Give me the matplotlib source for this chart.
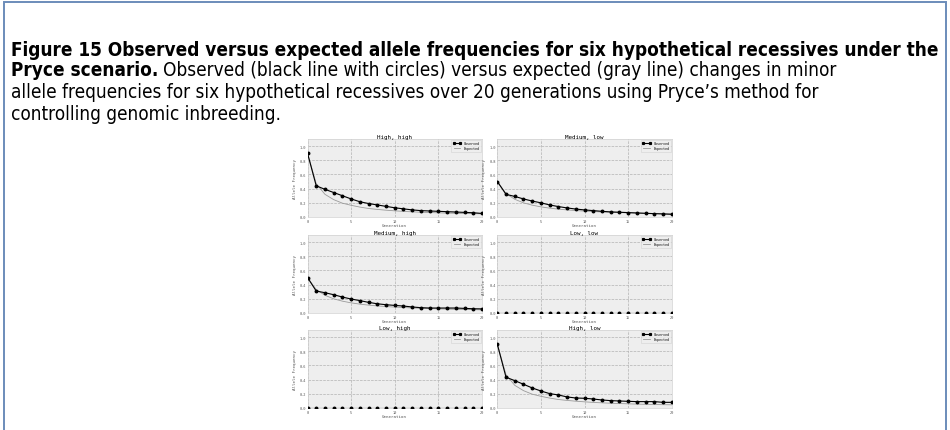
import matplotlib
matplotlib.use('Agg')
import matplotlib.pyplot as plt
from matplotlib import font_manager
from matplotlib.patches import Rectangle
from matplotlib.lines import Line2D

W, H = 950, 431

generations = list(range(21))
panel_titles = ["High, high", "Medium, low", "Medium, high", "Low, low", "Low, high", "High, low"]
x_ticks = [0, 5, 10, 15, 20]
y_ticks = [0.0, 0.2, 0.4, 0.6, 0.8, 1.0]

obs_high_high = [0.90, 0.44, 0.39, 0.345, 0.30, 0.255, 0.215, 0.19, 0.17, 0.15, 0.13,
                 0.115, 0.10, 0.09, 0.085, 0.08, 0.075, 0.07, 0.065, 0.06, 0.05]
exp_high_high = [0.90, 0.47, 0.32, 0.245, 0.195, 0.165, 0.14, 0.12, 0.107, 0.096, 0.087,
                 0.079, 0.073, 0.067, 0.063, 0.059, 0.055, 0.052, 0.049, 0.047, 0.045]
obs_medium_low = [0.50, 0.32, 0.29, 0.255, 0.225, 0.20, 0.17, 0.147, 0.128, 0.112, 0.10,
                  0.09, 0.08, 0.072, 0.067, 0.062, 0.057, 0.052, 0.047, 0.043, 0.038]
exp_medium_low = [0.50, 0.33, 0.25, 0.20, 0.167, 0.143, 0.125, 0.111, 0.10, 0.091, 0.083,
                  0.077, 0.071, 0.067, 0.062, 0.059, 0.055, 0.052, 0.05, 0.047, 0.045]
obs_medium_high = [0.50, 0.31, 0.286, 0.258, 0.225, 0.197, 0.175, 0.15, 0.13, 0.117, 0.107,
                   0.098, 0.085, 0.075, 0.07, 0.07, 0.07, 0.07, 0.065, 0.06, 0.058]
exp_medium_high = [0.50, 0.33, 0.25, 0.20, 0.167, 0.143, 0.125, 0.111, 0.10, 0.091, 0.083,
                   0.077, 0.071, 0.067, 0.062, 0.059, 0.055, 0.052, 0.05, 0.047, 0.045]
obs_low_low = [0.005, 0.005, 0.005, 0.005, 0.005, 0.005, 0.005, 0.005, 0.005, 0.005, 0.005,
               0.005, 0.005, 0.005, 0.005, 0.005, 0.005, 0.005, 0.005, 0.005, 0.005]
exp_low_low = [0.005, 0.005, 0.005, 0.005, 0.005, 0.005, 0.005, 0.005, 0.005, 0.005, 0.005,
               0.005, 0.005, 0.005, 0.005, 0.005, 0.005, 0.005, 0.005, 0.005, 0.005]
obs_low_high = [0.005, 0.005, 0.005, 0.005, 0.005, 0.005, 0.005, 0.005, 0.005, 0.005, 0.005,
                0.005, 0.005, 0.005, 0.005, 0.005, 0.005, 0.005, 0.005, 0.005, 0.005]
exp_low_high = [0.005, 0.005, 0.005, 0.005, 0.005, 0.005, 0.005, 0.005, 0.005, 0.005, 0.005,
                0.005, 0.005, 0.005, 0.005, 0.005, 0.005, 0.005, 0.005, 0.005, 0.005]
obs_high_low = [0.90, 0.434, 0.386, 0.335, 0.283, 0.24, 0.203, 0.184, 0.156, 0.141, 0.137,
                0.127, 0.113, 0.104, 0.099, 0.094, 0.09, 0.09, 0.09, 0.08, 0.08]
exp_high_low = [0.90, 0.47, 0.32, 0.245, 0.195, 0.165, 0.14, 0.12, 0.107, 0.096, 0.087,
                0.079, 0.073, 0.067, 0.063, 0.059, 0.055, 0.052, 0.049, 0.047, 0.045]

observed = [obs_high_high, obs_medium_low, obs_medium_high, obs_low_low, obs_low_high, obs_high_low]
expected = [exp_high_high, exp_medium_low, exp_medium_high, exp_low_low, exp_low_high, exp_high_low]

caption_line1 = "Figure 15 Observed versus expected allele frequencies for six hypothetical recessives under the"
caption_bold2 = "Pryce scenario."
caption_reg2 = "Observed (black line with circles) versus expected (gray line) changes in minor"
caption_line3 = "allele frequencies for six hypothetical recessives over 20 generations using Pryce\u2019s method for"
caption_line4 = "controlling genomic inbreeding."

names = {f.name for f in font_manager.fontManager.ttflist}
if 'Liberation Sans Narrow' in names:
    cap_family = 'Liberation Sans Narrow'
    cap_stretch = 'normal'
else:
    cap_family = 'DejaVu Sans'
    cap_stretch = 'condensed'

fig = plt.figure(figsize=(W / 100, H / 100), dpi=100)


def fx(x):
    return x / W


def fy(y):
    return 1 - y / H


# frame
fig.patches.append(Rectangle((fx(4), fy(440)), fx(946) - fx(4), fy(3) - fy(440),
                             transform=fig.transFigure, fill=False,
                             edgecolor='#6b8cba', linewidth=1.4))

# caption
renderer = fig.canvas.get_renderer()
x_left = 11
target_w = 934
base = 14
line_y = [50, 71, 93, 115]
t1 = fig.text(fx(x_left), fy(line_y[0]), caption_line1, fontsize=base, fontweight='bold',
              family=cap_family, stretch=cap_stretch, va='center', ha='left')
w = t1.get_window_extent(renderer).width
fs = base * target_w / w
t1.set_fontsize(fs)

tb = fig.text(fx(x_left), fy(line_y[1]), caption_bold2, fontsize=fs, fontweight='bold',
              family=cap_family, stretch=cap_stretch, va='center', ha='left')
wb = tb.get_window_extent(renderer).width
fig.text(fx(x_left + wb + fs * 0.35), fy(line_y[1]), caption_reg2, fontsize=fs,
         family=cap_family, stretch=cap_stretch, va='center', ha='left')
fig.text(fx(x_left), fy(line_y[2]), caption_line3, fontsize=fs,
         family=cap_family, stretch=cap_stretch, va='center', ha='left')
fig.text(fx(x_left), fy(line_y[3]), caption_line4, fontsize=fs,
         family=cap_family, stretch=cap_stretch, va='center', ha='left')

# panels
col_x = [(307.5, 482.0), (497.3, 671.7)]
row_y = [(140.0, 218.0), (236.0, 314.0), (331.0, 409.0)]
mono = 'DejaVu Sans Mono'
tick_color = '#555555'

for i in range(6):
    r, c = divmod(i, 2)
    x0, x1 = col_x[c]
    y0, y1 = row_y[r]
    ax = fig.add_axes([fx(x0), fy(y1), fx(x1) - fx(x0), fy(y0) - fy(y1)])
    ax.set_facecolor('#eeeeee')
    ax.plot(generations, expected[i], color='#9a9a9a', linewidth=0.6, label='Expected', zorder=2)
    ax.plot(generations, observed[i], color='black', linewidth=0.8, marker='o',
            markersize=1.8, label='Observed', zorder=3)
    ax.set_xlim(0, 20)
    ax.set_ylim(0, 1.1)
    ax.set_xticks(x_ticks)
    ax.set_yticks(y_ticks)
    ax.set_xticklabels([str(v) for v in x_ticks], fontsize=2.6, family=mono, color=tick_color)
    ax.set_yticklabels(['%.1f' % v for v in y_ticks], fontsize=2.6, family=mono, color=tick_color)
    ax.tick_params(length=0, pad=1.2)
    ax.grid(True, color='#b2b2b2', linestyle='--', linewidth=0.5)
    ax.set_axisbelow(True)
    for s in ax.spines.values():
        s.set_color('#d0d0d0')
        s.set_linewidth(0.5)
    ax.set_title(panel_titles[i], fontsize=4.2, family=mono, pad=0.8)
    ax.set_xlabel('Generation', fontsize=3.0, family=mono, color=tick_color, labelpad=0.5)
    ax.set_ylabel('Allele Frequency', fontsize=3.0, family=mono, color=tick_color, labelpad=2.0)
    handles = [Line2D([], [], color='black', linewidth=0.8, marker='s', markersize=1.3),
               Line2D([], [], color='#9a9a9a', linewidth=0.6)]
    leg = ax.legend(handles, ['Observed', 'Expected'], loc='upper right',
                    prop={'family': mono, 'size': 2.4}, numpoints=2, handlelength=2.5,
                    frameon=True, borderpad=0.4, labelspacing=0.3, borderaxespad=0.3,
                    fancybox=False)
    leg.get_frame().set_facecolor('#eeeeee')
    leg.get_frame().set_edgecolor('#cccccc')
    leg.get_frame().set_linewidth(0.4)

fig.savefig('out.png', dpi=100)
